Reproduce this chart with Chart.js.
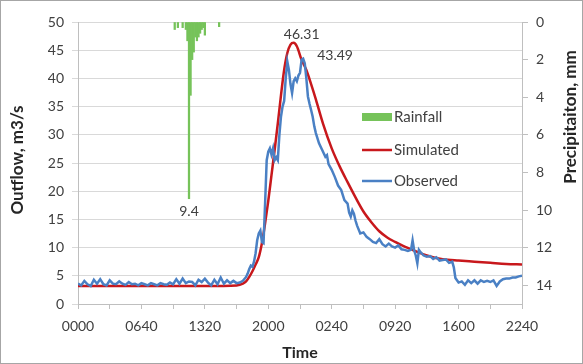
<!DOCTYPE html>
<html><head><meta charset="utf-8">
<script src="https://cdn.jsdelivr.net/npm/chart.js@4/dist/chart.umd.min.js"></script>
<style>
html,body{margin:0;padding:0;background:#fff;}
canvas{display:block;}
</style></head><body>
<canvas id="c" width="583" height="364"></canvas>
<script>
// ---- data (time in minutes from 0000 of day 1) ----
const tickMinutes = [0,400,800,1200,1600,2000,2400,2800];
const tickLabels = ['0000','0640','1320','2000','0240','0920','1600','2240'];

const rainTime  = [610,630,660,680,690,700,710,720,730,740,750,760,770,780,790,800,890];
const rainDepth = [0.4,0.3,0.3,0.4,1.0,9.4,3.9,2.0,1.6,0.8,1.0,0.8,0.6,0.4,0.3,0.7,0.25];

const simTime = [0,200,400,600,800,1000,1040,1060,1080,1100,1120,1140,1160,1180,1200,1220,1240,1260,1280,1300,1320,1340,1360,1380,1410,1440,1470,1500,1545,1600,1650,1700,1750,1800,1850,1900,1950,2000,2050,2100,2150,2200,2250,2300,2400,2500,2600,2700,2800];
const simFlow = [3.2,3.2,3.2,3.2,3.2,3.3,3.6,4.0,4.8,5.8,7.0,8.3,10.8,14.3,18.3,22.8,27.3,32.0,37.0,41.5,44.5,46.0,46.31,45.7,43.3,41.5,39.0,36.3,32.0,27.6,24.4,21.6,18.9,16.4,14.5,12.9,11.8,11.0,10.3,9.7,9.1,8.6,8.2,7.95,7.7,7.5,7.3,7.1,7.0];

const obsTime = [0,20,40,60,80,100,120,140,160,180,200,220,240,260,280,300,320,340,360,380,400,420,440,460,480,500,520,540,560,580,600,620,640,660,680,700,720,740,760,780,800,820,840,860,880,900,920,940,960,980,1000,1020,1040,1060,1070,1080,1090,1100,1110,1120,1130,1140,1150,1160,1170,1180,1190,1200,1210,1220,1230,1240,1250,1260,1270,1280,1290,1300,1310,1320,1330,1340,1350,1360,1370,1380,1390,1400,1410,1420,1430,1440,1450,1460,1470,1480,1490,1500,1520,1540,1560,1570,1580,1600,1620,1640,1660,1680,1700,1710,1720,1730,1740,1750,1760,1780,1800,1820,1840,1860,1880,1900,1920,1940,1960,1980,2000,2020,2040,2060,2080,2100,2110,2120,2130,2140,2150,2160,2180,2200,2220,2240,2260,2280,2300,2320,2340,2360,2370,2380,2390,2400,2420,2440,2460,2480,2500,2520,2540,2560,2580,2600,2620,2640,2660,2680,2700,2720,2740,2760,2780,2800];
const obsFlow = [3.6,3.3,4.1,3.5,3.2,4.3,3.6,4.4,3.5,3.3,4.2,3.6,3.5,4.0,3.6,3.4,3.9,3.5,3.6,3.3,3.7,3.5,3.3,3.7,3.5,3.3,3.7,3.5,3.4,3.8,3.5,4.4,3.6,4.5,3.7,4.0,3.9,3.3,4.3,3.9,4.5,3.8,3.3,4.3,3.5,4.7,3.6,4.2,3.7,4.1,3.7,3.8,4.1,4.8,5.4,6.2,6.8,6.6,7.5,9.0,11.3,12.5,13.0,11.0,10.8,17.9,25.5,27.0,27.6,26.5,27.6,25.5,26.0,25.5,30.0,33.2,35.0,36.0,40.0,43.0,41.5,39.0,37.4,39.5,40.0,39.5,40.5,41.0,43.3,43.49,42.7,40.0,36.8,35.5,34.4,33.2,31.5,30.3,28.5,27.3,26.1,26.4,24.8,23.8,22.5,21.0,20.2,18.4,17.8,16.2,15.5,16.6,16.0,14.8,13.9,12.5,12.7,11.9,11.5,11.0,10.8,11.5,10.6,10.2,10.7,10.2,10.0,10.4,9.7,9.6,9.4,9.6,11.3,9.5,8.6,7.2,9.6,9.2,8.6,8.4,8.5,8.0,8.3,7.7,7.8,7.9,7.3,7.5,6.5,4.6,4.2,3.8,4.0,3.4,4.2,3.7,4.2,3.6,4.2,3.9,4.1,3.9,4.2,3.2,4.0,4.4,4.5,4.5,4.7,4.7,4.9,5.0];

const FONT = 'Lato, "Open Sans", sans-serif';
const TXT = '#404040';
const GRID = '#d9d9d9';
const AXIS = '#bfbfbf';
const RED = '#c8181c';
const BLUE = '#4a80c4';
const GREEN = '#76c35a';

const pts = (xs, ys) => xs.map((x,i)=>({x:x, y:ys[i]}));

const frame = {
  id:'frame',
  beforeDraw(chart){
    const c = chart.ctx;
    c.save(); c.fillStyle='#fff'; c.fillRect(0,0,chart.width,chart.height);
    c.strokeStyle='#a6a6a6'; c.lineWidth=1; c.strokeRect(0.5,0.5,chart.width-1,chart.height-1);
    c.restore();
  }
};

const extras = {
  id:'extras',
  afterDatasetsDraw(chart){
    const c = chart.ctx, x = chart.scales.x, y = chart.scales.y, y2 = chart.scales.y2;
    c.save();
    c.fillStyle = TXT; c.font = '14px ' + FONT; c.textBaseline = 'middle';
    // data labels
    let si = simFlow.indexOf(Math.max(...simFlow));
    c.textAlign = 'center';
    c.fillText(simFlow[si].toFixed(2), x.getPixelForValue(simTime[si]) + 8, y.getPixelForValue(simFlow[si]) - 8);
    let oi = obsFlow.indexOf(Math.max(...obsFlow));
    c.textAlign = 'left';
    c.fillText(obsFlow[oi].toFixed(2), x.getPixelForValue(obsTime[oi]) + 14, y.getPixelForValue(obsFlow[oi]) - 3);
    let ri = rainDepth.indexOf(Math.max(...rainDepth));
    c.textAlign = 'center';
    c.fillText(String(rainDepth[ri]), x.getPixelForValue(rainTime[ri]), y2.getPixelForValue(rainDepth[ri]) + 13);
    // legend
    const lx = 362, lw = 30;
    const items = [['Rainfall','bar',GREEN,117],['Simulated','line',RED,150],['Observed','line',BLUE,181]];
    c.font = '15px ' + FONT; c.textAlign='left';
    items.forEach(([t,k,col,ly])=>{
      if(k==='bar'){ c.fillStyle=col; c.fillRect(lx, ly-4, lw, 8); }
      else { c.strokeStyle=col; c.lineWidth=2.5; c.beginPath(); c.moveTo(lx,ly); c.lineTo(lx+lw,ly); c.stroke(); }
      c.fillStyle = TXT; c.fillText(t, lx+lw+2, ly);
    });
    // axis titles
    c.fillStyle = '#262626';
    c.textAlign='center';
    c.font = 'bold 16px ' + FONT;
    c.fillText('Time', 300, 353);
    c.font = 'bold 17px ' + FONT;
    c.save(); c.translate(18,160); c.rotate(-Math.PI/2); c.fillText('Outflow, m3/s',0,0); c.restore();
    c.save(); c.translate(571,117); c.rotate(-Math.PI/2); c.fillText('Precipitaiton, mm',0,0); c.restore();
    c.restore();
  }
};

function fmtTime(v){
  const i = tickMinutes.indexOf(v);
  return i >= 0 ? tickLabels[i] : '';
}

new Chart(document.getElementById('c'), {
  data: {
    datasets: [
      {type:'line', label:'Observed', data: pts(obsTime, obsFlow), yAxisID:'y', borderColor:BLUE, borderWidth:2.5, pointRadius:0, tension:0, order:1},
      {type:'line', label:'Simulated', data: pts(simTime, simFlow), yAxisID:'y', borderColor:RED, borderWidth:2.5, pointRadius:0, cubicInterpolationMode:'monotone', order:2},
      {type:'bar', label:'Rainfall', data: pts(rainTime, rainDepth), yAxisID:'y2', backgroundColor:GREEN, barThickness:1.6, borderWidth:0, grouped:false, order:3}
    ]
  },
  options: {
    responsive:false, animation:false, devicePixelRatio:1,
    layout:{padding:{top:22,left:0,right:0,bottom:0}},
    plugins:{legend:{display:false}, tooltip:{enabled:false}},
    scales:{
      x:{type:'linear', min:0, max:2800, position:'bottom', offset:false,
         afterFit(s){ s.height = 60; s.paddingLeft = 0; s.paddingRight = 0; },
         afterBuildTicks(s){ const t=[]; for(let v=0; v<=2800; v+=200) t.push({value:v}); s.ticks=t; },
         ticks:{autoSkip:false, maxRotation:0, minRotation:0, padding:9, color:TXT, font:{family:FONT,size:14}, callback:(v)=>fmtTime(v)},
         grid:{offset:false, drawOnChartArea:false, drawTicks:true, tickLength:5, color:AXIS},
         border:{display:true, color:AXIS, width:1}},
      y:{type:'linear', min:0, max:50, position:'left',
         afterFit(s){ s.width = 78; },
         ticks:{stepSize:5, padding:8, color:TXT, font:{family:FONT,size:14}},
         grid:{color:GRID, lineWidth:1, drawTicks:true, tickLength:6},
         border:{display:true, color:AXIS, width:1}},
      y2:{type:'linear', min:0, max:15, reverse:true, position:'right',
         afterFit(s){ s.width = 61; },
         afterBuildTicks(s){ s.ticks=[0,2,4,6,8,10,12,14].map(v=>({value:v})); },
         ticks:{padding:8, color:TXT, font:{family:FONT,size:14}},
         grid:{drawOnChartArea:false, drawTicks:true, tickLength:6, color:AXIS},
         border:{display:true, color:AXIS, width:1}}
    }
  },
  plugins:[frame, extras]
});
</script>
</body></html>
